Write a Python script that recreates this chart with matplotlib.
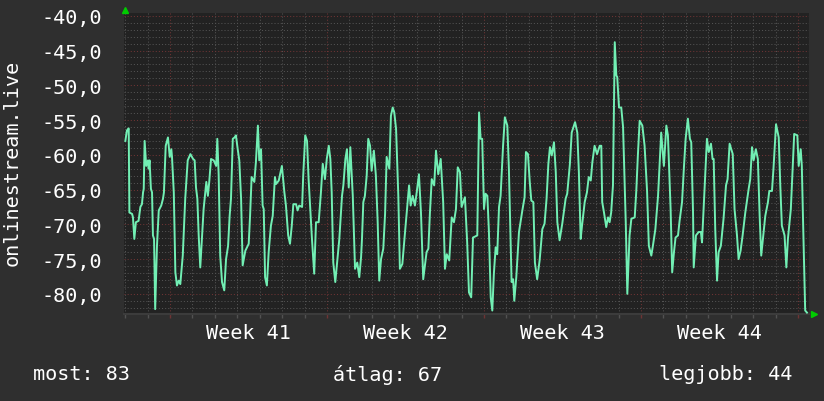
import numpy as np
import matplotlib.pyplot as plt
from matplotlib.ticker import MultipleLocator, FuncFormatter

# idopont (nap, a 41. het kezdetetol) es jelszint (dBm)
days = [-1.99, -1.92, -1.84, -1.81, -1.69, -1.65, -1.59, -1.52, -1.40, -1.32,
        -1.25, -1.20, -1.17, -1.13, -1.06, -0.98, -0.95, -0.91, -0.85, -0.80,
        -0.76, -0.71, -0.66, -0.58, -0.50, -0.39, -0.31, -0.27, -0.19, -0.09,
        -0.01, 0.06, 0.09, 0.17, 0.24, 0.31, 0.39, 0.46, 0.57, 0.68,
        0.79, 0.91, 1.03, 1.10, 1.16, 1.22, 1.28, 1.35, 1.43, 1.50,
        1.62, 1.69, 1.75, 1.83, 1.95, 2.06, 2.11, 2.17, 2.24, 2.32,
        2.42, 2.50, 2.59, 2.66, 2.72, 2.80, 2.88, 2.94, 3.02, 3.09,
        3.17, 3.24, 3.36, 3.51, 3.57, 3.64, 3.76, 3.83, 3.92, 3.98,
        4.06, 4.13, 4.18, 4.24, 4.32, 4.40, 4.50, 4.58, 4.68, 4.73,
        4.85, 4.99, 5.10, 5.17, 5.27, 5.35, 5.43, 5.50, 5.62, 5.69,
        5.76, 5.89, 5.94, 5.99, 6.03, 6.11, 6.18, 6.26, 6.33, 6.43,
        6.51, 6.63, 6.73, 6.81, 6.91, 6.99, 7.08, 7.15, 7.21, 7.28,
        7.37, 7.55, 7.67, 7.73, 7.82, 7.89, 7.97, 8.04, 8.15, 8.25,
        8.35, 8.44, 8.52, 8.56, 8.62, 8.69, 8.77, 8.84, 8.92, 8.99,
        9.09, 9.18, 9.26, 9.33, 9.41, 9.51, 9.59, 9.66, 9.78, 9.85,
        9.93, 10.00, 10.08, 10.18, 10.25, 10.36, 10.48, 10.66, 10.73, 10.82,
        10.92, 11.00, 11.10, 11.19, 11.29, 11.44, 11.52, 11.59, 11.67, 11.78,
        11.86, 11.96, 12.07, 12.18, 12.26, 12.34, 12.45, 12.56, 12.66, 12.75,
        12.83, 12.93, 13.00, 13.15, 13.25, 13.33, 13.43, 13.51, 13.70, 13.78,
        13.85, 13.92, 14.00, 14.07, 14.15, 14.22, 14.30, 14.37, 14.44, 14.52,
        14.59, 14.67, 14.74, 14.85, 14.93, 15.04, 15.11, 15.23, 15.30, 15.35,
        15.44, 15.56, 15.71, 15.81, 15.87, 15.96, 16.04, 16.11, 16.20, 16.27,
        16.37, 16.48, 16.60, 16.70, 16.79, 16.87, 16.94, 17.02, 17.12, 17.20,
        17.27, 17.37, 17.49, 17.64, 17.71, 17.83, 17.91, 18.06, 18.16, 18.23,
        18.31, 18.37, 18.49, 18.59, 18.67, 18.76, 18.83, 18.93, 19.04, 19.16,
        19.23, 19.27, 19.35, 19.45, 19.53, 19.60, 19.67, 19.75, 19.83, 19.90,
        19.94, 20.02, 20.12, 20.20, 20.32, 20.39, 20.49, 20.57, 20.72, 20.79,
        20.86, 20.94, 21.06, 21.16, 21.27, 21.35, 21.46, 21.53, 21.64, 21.76,
        21.90, 22.02, 22.13, 22.20, 22.32, 22.39, 22.47, 22.54, 22.65, 22.72,
        22.83, 22.91, 22.99, 23.09, 23.18, 23.24, 23.32, 23.35, 23.45, 23.57,
        23.67, 23.72, 23.79, 23.86, 23.94, 24.02, 24.12, 24.19, 24.24, 24.31,
        24.39, 24.46, 24.56, 24.68, 24.79, 24.86, 24.95, 25.09, 25.17, 25.28,
        25.35, 25.44, 25.53, 25.65, 25.80, 25.87, 25.95, 26.02, 26.12, 26.21,
        26.29, 26.36, 26.47, 26.54, 26.66, 26.72, 26.84, 26.91, 27.02, 27.14,
        27.21, 27.28, 27.40, 27.48, 27.55, 27.68, 27.83, 27.97, 28.03, 28.12,
        28.17, 28.22, 28.32, 28.40]

signal = [-58.0, -56.5, -56.2, -68.3, -68.5, -69.0, -72.1, -69.7, -69.5, -67.5,
          -67.1, -65.4, -64.9, -58.0, -61.6, -60.8, -62.0, -60.8, -64.9, -65.4,
          -71.6, -72.1, -82.2, -73.1, -68.0, -67.3, -66.3, -65.4, -58.7, -57.5,
          -60.3, -59.2, -60.3, -65.4, -76.9, -78.8, -78.1, -78.6, -74.5, -66.3,
          -60.8, -59.9, -60.6, -60.8, -64.7, -66.3, -71.6, -76.2, -71.6, -67.8,
          -63.9, -65.9, -63.9, -60.6, -60.8, -61.6, -57.7, -62.8, -74.5, -78.3,
          -79.5, -75.0, -73.1, -68.8, -66.3, -57.7, -57.5, -57.2, -59.2, -60.8,
          -66.3, -75.9, -73.8, -72.8, -68.8, -63.2, -63.9, -61.1, -55.8, -60.8,
          -59.2, -67.3, -67.8, -77.6, -78.8, -74.0, -70.2, -68.8, -63.2, -64.2,
          -63.7, -61.6, -65.4, -67.3, -71.6, -72.8, -70.2, -67.1, -67.1, -68.0,
          -67.3, -67.5, -63.0, -59.9, -57.2, -58.0, -63.5, -68.0, -72.1, -77.1,
          -69.7, -69.7, -65.4, -61.3, -63.5, -60.6, -58.7, -60.6, -65.4, -75.5,
          -78.3, -72.1, -65.9, -64.4, -60.6, -59.2, -64.7, -58.9, -65.9, -76.4,
          -75.5, -77.6, -74.7, -72.1, -66.8, -65.9, -63.0, -57.7, -58.7, -62.3,
          -59.4, -63.0, -69.7, -78.1, -75.0, -73.5, -68.5, -60.3, -62.0, -54.4,
          -53.2, -53.9, -56.3, -65.9, -76.4, -75.7, -71.1, -64.4, -67.3, -65.9,
          -67.3, -65.4, -62.8, -68.3, -77.9, -74.0, -73.5, -68.3, -63.5, -64.4,
          -59.4, -62.8, -60.6, -66.8, -76.4, -74.3, -75.2, -69.0, -69.7, -67.8,
          -61.8, -62.5, -67.5, -66.1, -72.6, -79.8, -80.5, -71.9, -71.6, -53.9,
          -57.7, -57.7, -67.8, -65.6, -65.9, -71.1, -80.5, -82.4, -77.1, -73.3,
          -74.3, -67.5, -65.9, -58.7, -54.6, -55.8, -62.0, -78.3, -77.9, -81.0,
          -77.6, -71.1, -68.0, -66.1, -59.6, -59.9, -63.9, -66.6, -66.8, -75.5,
          -77.9, -75.2, -70.7, -69.9, -66.3, -61.3, -58.9, -60.1, -58.2, -62.5,
          -69.7, -72.3, -69.9, -66.3, -65.6, -61.3, -56.8, -55.3, -56.8, -62.5,
          -72.1, -70.2, -66.8, -65.4, -63.2, -63.7, -61.1, -58.7, -59.9, -58.7,
          -58.7, -66.8, -68.3, -70.4, -69.0, -69.7, -68.3, -64.4, -43.8, -48.6,
          -48.8, -53.2, -53.2, -56.0, -69.7, -80.0, -71.6, -69.2, -69.0, -65.2,
          -60.1, -55.1, -55.8, -58.7, -65.2, -73.1, -74.5, -73.1, -70.7, -65.9,
          -56.8, -61.6, -55.8, -57.2, -67.8, -76.9, -74.0, -71.9, -71.6, -69.5,
          -66.8, -62.0, -57.7, -54.8, -57.7, -58.2, -68.3, -76.2, -71.6, -71.1,
          -71.1, -72.6, -67.8, -63.0, -57.7, -59.6, -58.4, -60.6, -60.6, -70.7,
          -78.1, -74.0, -73.1, -69.2, -64.4, -63.5, -58.4, -59.9, -67.8, -71.6,
          -75.0, -73.8, -71.6, -68.3, -64.9, -63.5, -58.9, -60.8, -59.2, -60.6,
          -68.8, -74.5, -71.1, -68.8, -66.8, -65.2, -65.2, -61.8, -55.6, -57.5,
          -64.4, -70.2, -71.6, -76.2, -72.1, -67.8, -57.0, -57.2, -61.6, -59.2,
          -61.6, -68.8, -82.4, -82.7]

week_labels = ["Week 41", "Week 42", "Week 43", "Week 44"]
legend_texts = ["most: 83", "átlag: 67", "legjobb: 44"]

bg = "#2f2f2f"
canvas = "#222222"
mono = "DejaVu Sans Mono"
minor_col = "#525252"
major_col = "#6e3434"

fig = plt.figure(figsize=(8.24, 4.02), dpi=100, facecolor=bg)
ax = fig.add_axes([124 / 824, 1 - 315 / 402, 685 / 824, 301 / 402])
ax.set_facecolor(canvas)

ax.plot(days, signal, color="#72efb4", linewidth=1.4, zorder=5)

ax.set_xlim(-2.05, 28.49)
ax.set_ylim(-82.9, -39.6)

# racsvonalak: napok / 1 dB szurke, hetek / 5 dB piros
ax.xaxis.set_major_locator(MultipleLocator(7))
ax.xaxis.set_minor_locator(MultipleLocator(1))
ax.yaxis.set_major_locator(MultipleLocator(5))
ax.yaxis.set_minor_locator(MultipleLocator(1))
ax.grid(which="minor", color=minor_col, linestyle=(0, (1, 2)), linewidth=0.75, zorder=1)
ax.grid(which="major", color=major_col, linestyle=(0, (1, 2)), linewidth=0.75, zorder=2)
ax.set_axisbelow(True)

ax.yaxis.set_major_formatter(FuncFormatter(lambda v, p: f"{v:.1f}".replace(".", ",")))
ax.xaxis.set_major_formatter(FuncFormatter(lambda v, p: ""))
ax.tick_params(axis="y", which="major", colors="white", labelsize=14.5, length=0, pad=16)
ax.tick_params(axis="y", which="minor", length=0)
ax.tick_params(axis="x", which="major", colors=major_col, length=3, width=1)
ax.tick_params(axis="x", which="minor", colors=minor_col, length=3, width=1)
for lab in ax.get_yticklabels():
    lab.set_family(mono)

for s in ["top", "right", "left"]:
    ax.spines[s].set_visible(False)
ax.spines["bottom"].set_color("#3c3c3c")
ax.spines["bottom"].set_linewidth(1.5)

# het feliratok a hetek kozepen
for i, lab in enumerate(week_labels):
    ax.text(3.5 + 7 * i, -0.03, lab, transform=ax.get_xaxis_transform(),
            ha="center", va="top", color="white", fontsize=14.5, family=mono)

# kis zold nyilak a tengelyek vegen
ax.plot([0.002], [1.01], marker="^", color="#00cc00", markersize=5,
        transform=ax.transAxes, clip_on=False)
ax.plot([1.007], [0.0], marker=">", color="#00cc00", markersize=5,
        transform=ax.transAxes, clip_on=False)

fig.text(12 / 824, 1 - 163 / 402, "onlinestream.live", rotation=90, ha="center",
         va="center", color="white", fontsize=14.5, family=mono)

fig.text(33 / 824, 1 - 375 / 402, legend_texts[0], ha="left", va="center",
         color="white", fontsize=14.5, family=mono)
fig.text(333 / 824, 1 - 375 / 402, legend_texts[1], ha="left", va="center",
         color="white", fontsize=14.5, family=mono)
fig.text(792 / 824, 1 - 375 / 402, legend_texts[2], ha="right", va="center",
         color="white", fontsize=14.5, family=mono)

plt.savefig("out.png", dpi=100, facecolor=bg)
